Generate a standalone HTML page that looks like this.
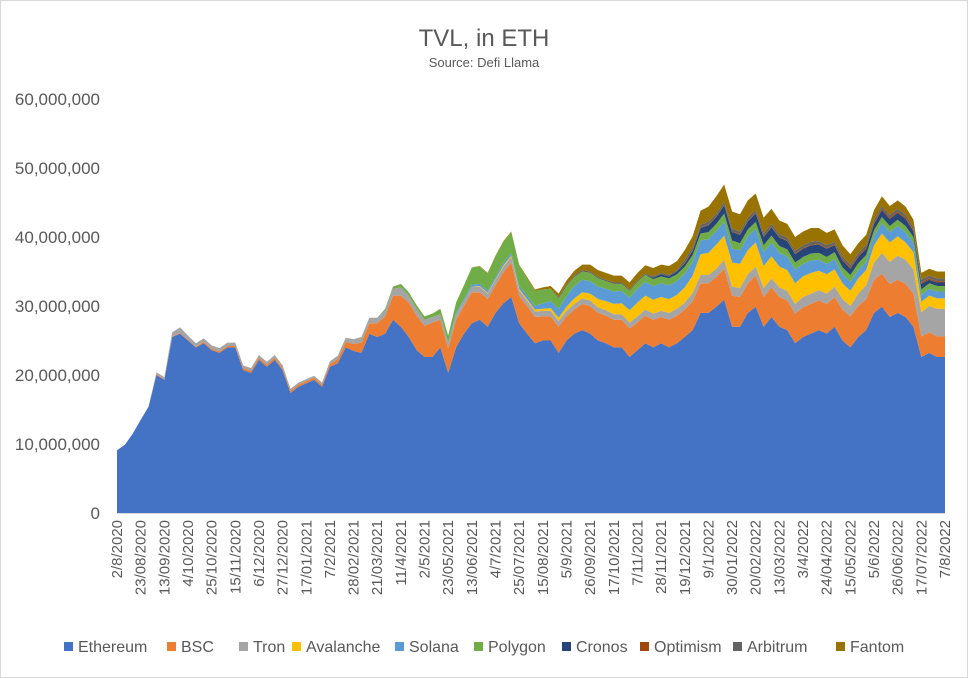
<!DOCTYPE html>
<html><head><meta charset="utf-8"><style>
html,body{margin:0;padding:0;background:#fff;}
svg{display:block;font-family:"Liberation Sans",Calibri,sans-serif;}
</style></head><body>
<svg id="chart" width="968" height="678" viewBox="0 0 968 678" xmlns="http://www.w3.org/2000/svg">
<rect x="0.5" y="0.5" width="967" height="677" fill="#fff" stroke="#d9d9d9"/>
<text x="484" y="46" text-anchor="middle" font-size="24" fill="#595959">TVL, in ETH</text>
<text x="484" y="67" text-anchor="middle" font-size="13" fill="#595959">Source: Defi Llama</text>
<g id="areas"></g>
<g id="yaxis"></g>
<g id="xaxis"></g>
<g id="legend"></g>
</svg>
<script>
const dateLabels=["2/8/2020","23/08/2020","13/09/2020","4/10/2020","25/10/2020","15/11/2020","6/12/2020","27/12/2020","17/01/2021","7/2/2021","28/02/2021","21/03/2021","11/4/2021","2/5/2021","23/05/2021","13/06/2021","4/7/2021","25/07/2021","15/08/2021","5/9/2021","26/09/2021","17/10/2021","7/11/2021","28/11/2021","19/12/2021","9/1/2022","30/01/2022","20/02/2022","13/03/2022","3/4/2022","24/04/2022","15/05/2022","5/6/2022","26/06/2022","17/07/2022","7/8/2022"];
const yTicks=[0,10,20,30,40,50,60];
const seriesNames=["Ethereum","BSC","Tron","Avalanche","Solana","Polygon","Cronos","Optimism","Arbitrum","Fantom"];
// weekly values, millions of ETH
const ethereum=[9.1,9.9,11.5,13.5,15.4,20,19.3,25.5,26,25,24,24.6,23.6,23.2,24,24,20.7,20.3,22.2,21.2,22.2,20.7,17.4,18.3,18.8,19.3,18.3,21.2,21.7,24,23.5,23.2,26,25.5,26,28,27,25.5,23.6,22.6,22.6,24,20.3,24,26,27.5,28,27,29,30.4,31.3,27.5,26,24.6,25,25,23.2,25,26,26.5,26,25,24.6,24,24,22.6,23.6,24.6,24,24.6,24,24.6,25.5,26.5,29,29,29.9,30.9,27,27,29,29.9,27,28.4,27,26.5,24.6,25.5,26,26.5,26,27,25,24,25.5,26.5,29,29.9,28.4,29,28.4,27,22.6,23.2,22.6,22.6];
const bsc=[0,0,0,0,0,0.1,0.1,0.1,0.1,0.1,0.1,0.2,0.2,0.2,0.2,0.2,0.3,0.3,0.3,0.3,0.3,0.3,0.3,0.3,0.3,0.3,0.3,0.4,0.6,0.8,1,1.5,1.5,2,2.5,3.5,4.5,5,5,4.5,5,4,3.5,4,4,4.5,4,4,4,4.5,5,4,4,3.8,3.5,3.5,3.8,3.5,3.5,3.8,4,4,4,4,4,4.2,4,4,4,3.8,4,4,4,4.2,4.3,4.3,4.3,4.5,4.5,4.3,4.3,4.5,4.3,4.3,4.3,4.3,4.3,4.3,4.3,4.3,4.3,4.3,4.5,4.5,4.5,4.5,4.8,4.8,4.8,4.8,4.8,4.8,3,3,3,3];
const tron=[0,0,0,0,0,0.3,0.3,0.6,0.8,0.6,0.5,0.5,0.5,0.5,0.5,0.5,0.4,0.4,0.4,0.4,0.4,0.4,0.3,0.3,0.3,0.3,0.3,0.4,0.5,0.6,0.7,0.8,0.8,0.8,0.9,1,1.2,1,1,0.9,0.8,0.8,0.8,0.8,0.8,0.8,0.8,0.8,0.8,0.8,0.8,0.8,0.8,0.8,0.8,0.8,0.8,0.8,0.8,0.8,0.8,0.8,0.8,0.8,0.8,0.8,0.9,0.9,0.9,0.9,1,1,1,1.2,1.2,1.2,1.2,1.3,1.3,1.3,1.3,1.3,1.3,1.3,1.4,1.4,1.4,1.5,1.5,1.5,1.5,1.5,1.5,1.5,1.8,2,2.5,3,3.2,3.5,3.5,3.5,3.5,3.8,4,4];
const avalanche=[0,0,0,0,0,0,0,0,0,0,0,0,0,0,0,0,0,0,0,0,0,0,0,0,0,0,0,0,0,0,0,0,0,0,0,0,0,0,0,0,0,0,0,0,0,0,0.1,0.1,0.1,0.2,0.2,0.2,0.2,0.3,0.3,0.4,0.5,0.6,0.8,0.9,1,1.2,1.3,1.5,1.6,1.8,2,2,2,2,2,2,2.2,2.5,3,3.2,3.5,3.5,3.5,3.5,3.5,3.5,3.2,3.2,3,3,3,3,3,2.8,2.8,2.5,2.3,2.2,2.2,2.2,2.5,2.8,2.8,2.8,2.5,2.5,1.5,1.5,1.5,1.5];
const solana=[0,0,0,0,0,0,0,0,0,0,0,0,0,0,0,0,0,0,0,0,0,0,0,0,0,0,0,0,0,0,0,0,0,0,0,0,0,0,0,0,0,0,0.1,0.2,0.2,0.3,0.3,0.3,0.3,0.4,0.4,0.4,0.5,0.5,0.8,1,1.3,1.5,1.8,1.8,1.8,1.8,1.8,1.8,1.8,1.8,2,2,2,2,2,2,2,2,2,2,2,2,2,2,2,2,2,2,2,2,2,1.8,1.8,1.6,1.5,1.5,1.3,1.3,1.2,1.2,1.3,1.5,1.5,1.5,1.5,1.3,1,1,1,1];
const polygon=[0,0,0,0,0,0,0,0,0,0,0,0,0,0,0,0,0,0,0,0,0,0,0,0,0,0,0,0,0,0,0,0,0,0,0.2,0.3,0.5,0.5,0.5,0.5,0.5,0.8,1,1.5,2,2.5,2.5,2.5,3,3,3,3,2.5,2.2,2,1.8,1.5,1.5,1.3,1.2,1.2,1.2,1.1,1.1,1,1,1,1,1,1,1,1,1,1,1,1,1,1.2,1.2,1,1,1,1,1,1,1,1,1,1,1,1,1,1,1,1,1,0.9,0.9,0.9,0.9,0.9,0.9,0.8,0.8,0.8,0.8];
const cronos=[0,0,0,0,0,0,0,0,0,0,0,0,0,0,0,0,0,0,0,0,0,0,0,0,0,0,0,0,0,0,0,0,0,0,0,0,0,0,0,0,0,0,0,0,0,0,0,0,0,0,0,0,0,0,0,0,0,0,0,0,0,0,0,0,0,0,0,0,0.2,0.3,0.3,0.4,0.5,0.6,0.8,1,1,1.2,1.2,1.2,1.2,1.2,1.2,1.2,1.2,1.2,1.2,1.2,1.2,1.2,1.2,1,1,0.9,0.9,0.9,0.9,1,1,1,1,0.8,0.8,0.5,0.5,0.5];
const optimism=[0,0,0,0,0,0,0,0,0,0,0,0,0,0,0,0,0,0,0,0,0,0,0,0,0,0,0,0,0,0,0,0,0,0,0,0,0,0,0,0,0,0,0,0,0,0,0,0,0,0,0,0,0,0,0,0,0,0,0,0,0,0,0,0,0,0,0,0,0,0,0,0,0.1,0.1,0.1,0.1,0.1,0.1,0.1,0.1,0.1,0.1,0.1,0.1,0.1,0.1,0.1,0.1,0.1,0.1,0.1,0.1,0.2,0.2,0.2,0.2,0.2,0.2,0.2,0.2,0.2,0.2,0.2,0.2,0.2,0.2];
const arbitrum=[0,0,0,0,0,0,0,0,0,0,0,0,0,0,0,0,0,0,0,0,0,0,0,0,0,0,0,0,0,0,0,0,0,0,0,0,0,0,0,0,0,0,0,0,0,0,0,0,0,0,0,0,0,0,0,0,0.2,0.2,0.2,0.2,0.2,0.2,0.2,0.2,0.2,0.2,0.2,0.2,0.2,0.2,0.2,0.2,0.4,0.4,0.4,0.4,0.4,0.4,0.4,0.4,0.4,0.4,0.4,0.4,0.4,0.4,0.4,0.4,0.4,0.4,0.4,0.4,0.4,0.4,0.4,0.4,0.4,0.4,0.4,0.4,0.4,0.4,0.4,0.4,0.4,0.4];
const fantom=[0,0,0,0,0,0,0,0,0,0,0,0,0,0,0,0,0,0,0,0,0,0,0,0,0,0,0,0,0,0,0,0,0,0,0,0,0,0,0,0,0,0,0,0,0,0,0.1,0.1,0.1,0.1,0.1,0.1,0.2,0.2,0.3,0.4,0.5,0.6,0.7,0.8,1,1,1,1,1,1,1.1,1.2,1.2,1.2,1.3,1.3,1.4,1.6,2,2.2,2.5,2.5,2.5,2.5,2.5,2.4,2.3,2.2,2,2,2,2,2,1.9,1.8,1.8,1.6,1.5,1.4,1.4,1.4,1.4,1.3,1.2,1.2,1.1,1,1,1,1];

const series=[ethereum,bsc,tron,avalanche,solana,polygon,cronos,optimism,arbitrum,fantom];
const colors=["#4472C4","#ED7D31","#A5A5A5","#FFC000","#5B9BD5","#70AD47","#264478","#9E480E","#636363","#997300"];
const NS="http://www.w3.org/2000/svg";
const X0=117,X1=945,Y0=513,Y60=99;
const nPts=ethereum.length;
function xScale(i){return X0+(X1-X0)*i/(nPts-1);}
function yScale(v){return Y0-(Y0-Y60)*v/60;}
function mk(tag,attrs,parent){const e=document.createElementNS(NS,tag);for(const k in attrs)e.setAttribute(k,attrs[k]);parent.appendChild(e);return e;}

const areas=document.getElementById('areas');
let base=new Array(nPts).fill(0);
series.forEach((s,si)=>{
  const top=base.map((b,i)=>b+s[i]);
  let d="M"+xScale(0)+","+yScale(top[0]);
  for(let i=1;i<nPts;i++)d+="L"+xScale(i).toFixed(2)+","+yScale(top[i]).toFixed(2);
  for(let i=nPts-1;i>=0;i--)d+="L"+xScale(i).toFixed(2)+","+yScale(base[i]).toFixed(2);
  d+="Z";
  const p=mk('path',{d:d,fill:colors[si]},areas);
  
  
  base=top;
});

const ya=document.getElementById('yaxis');
yTicks.forEach(t=>{
  const tx=mk('text',{x:100,y:yScale(t)+6,'text-anchor':'end','font-size':17,fill:'#595959'},ya);
  tx.textContent=(t*1000000).toLocaleString('en-US');
  
  
});
const axisLine=mk('line',{x1:X0,y1:Y0+0.5,x2:X1,y2:Y0+0.5,stroke:'#d9d9d9','stroke-width':1},ya);



const xa=document.getElementById('xaxis');
dateLabels.forEach((lab,k)=>{
  const x=X0+(X1-X0)*k/(dateLabels.length-1);
  const tx=mk('text',{x:0,y:0,'text-anchor':'end','font-size':15,fill:'#595959',transform:'translate('+(x+5)+',520) rotate(-90)'},xa);
  tx.textContent=lab;
  
  
});

const lg=document.getElementById('legend');
const legX=[64,167,239,292,395,474,562,640,733,836];
seriesNames.forEach((n,i)=>{
  const g=mk('g',{},lg);
  
  
  mk('rect',{x:legX[i],y:642,width:9,height:9,fill:colors[i]},g);
  const t=mk('text',{x:legX[i]+14,y:652,'font-size':16,fill:'#595959'},g);
  t.textContent=n;
});
</script>
</body></html>
